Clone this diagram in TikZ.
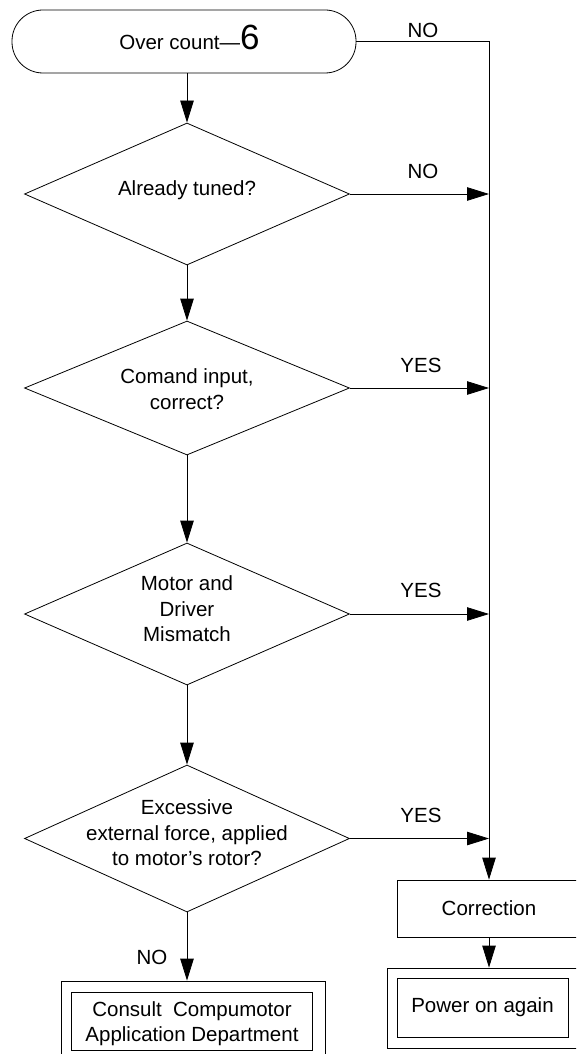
\documentclass[tikz,border=0pt]{standalone}
\usepackage{fontspec}
\setmainfont{Liberation Sans}
\usetikzlibrary{shapes.geometric,arrows.meta}
\begin{document}
\begin{tikzpicture}[x=1pt,y=-1pt,
  line width=0.8pt,
  every node/.style={font=\fontsize{20.5}{22}\selectfont, inner sep=0pt},
  dia/.style={draw, diamond, minimum width=325pt, minimum height=#1},
  box/.style={draw, rectangle},
  dtxt/.style={align=center, font=\fontsize{20.5}{25.5}\selectfont},
  arr/.style={-{Triangle[length=22pt,width=13.5pt]}}
]
\useasboundingbox (0,0) rectangle (576,1054);
\clip (0,0) rectangle (576,1054);

% terminal
\node[draw, rounded corners=31pt, minimum width=344pt, minimum height=63pt] (term) at (184,41.5) {};
\node[anchor=base] (termt) at (189.5,50) {Over count—\fontsize{35}{38}\selectfont 6};

% decisions
\node[dia=142pt] (d1) at (187,194) {};
\node[dtxt] (d1t) at (187,190) {Already tuned?};
\node[dia=134pt] (d2) at (187,388) {};
\node[dtxt] (d2t) at (187,389) {Comand input,\\correct?};
\node[dia=142pt] (d3) at (187,614) {};
\node[dtxt] (d3t) at (187,609) {Motor and\\Driver\\Mismatch};
\node[dia=147pt] (d4) at (187,838.5) {};
\node[dtxt] (d4t) at (187,833) {Excessive\\external force, applied\\to motor's rotor?};

% right column
\node[box, minimum width=184pt, minimum height=57pt] (corr) at (489,908.5) {Correction};
\node[box, minimum width=204pt, minimum height=80pt] (pwo) at (489,1008) {};
\node[box, minimum width=171pt, minimum height=59pt] (pwi) at (482.5,1007.5) {Power on again};

% consult
\node[box, minimum width=264pt, minimum height=89pt] (cso) at (193,1025.5) {};
\node[box, minimum width=241pt, minimum height=58pt] (csi) at (191.5,1021) {};
\node[dtxt, font=\fontsize{20.5}{25}\selectfont] (csit) at (192,1024) {Consult\ \ Compumotor\\Application Department};

% connectors
\draw[arr] (term.south -| d1.north) -- (d1.north);
\draw[arr] (term.east) -| (corr.north);
\draw[arr] (d1.east) -- (d1.east -| corr.north);
\draw[arr] (d2.east) -- (d2.east -| corr.north);
\draw[arr] (d3.east) -- (d3.east -| corr.north);
\draw[arr] (d4.east) -- (d4.east -| corr.north);
\draw[arr] (d1.south) -- (d2.north);
\draw[arr] (d2.south) -- (d3.north);
\draw[arr] (d3.south) -- (d4.north);
\draw[arr] (d4.south) -- (d4.south |- cso.north);
\draw[arr] (corr.south) -- (corr.south |- pwo.north);

% labels
\node (l0) at (423,30) {NO};
\node (l1) at (423,171) {NO};
\node (l2) at (421,365) {YES};
\node (l3) at (421,590) {YES};
\node (l4) at (421,815) {YES};
\node (l5) at (152,957) {NO};
\end{tikzpicture}
\end{document}
